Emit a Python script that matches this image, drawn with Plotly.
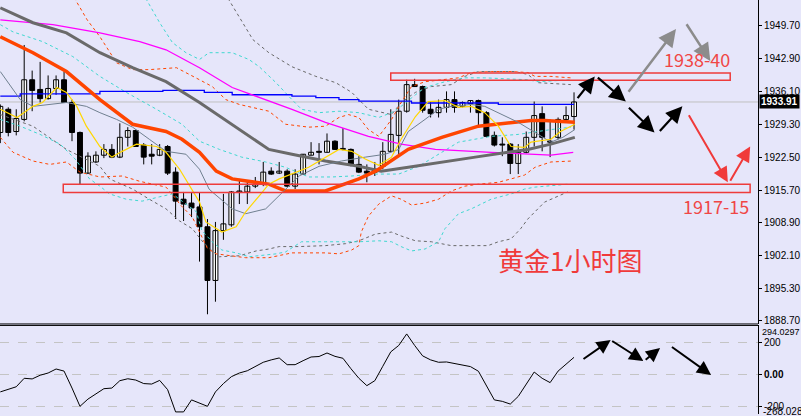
import plotly.graph_objects as go

BG = "#E6E6FA"

# ---------------- candles (1h gold) ----------------
opens = [1927.6,1932.4,1927.8,1930.3,1938.5,1936.5,1934.6,1936.7,1938.5,1933.8,
         1927.6,1919.2,1921.5,1922.9,1924.1,1922.5,1926.6,1928.0,1925.0,1923.1,
         1922.9,1924.7,1919.4,1913.8,1913.0,1912.2,1908.1,1897.0,1907.3,1908.5,
         1915.3,1915.3,1916.5,1917.1,1919.6,1919.2,1919.6,1916.5,1919.0,1922.9,
         1923.7,1923.5,1925.8,1924.1,1924.1,1921.0,1919.6,1920.0,1920.6,1923.7,
         1927.0,1932.0,1937.5,1937.1,1932.4,1931.7,1932.8,1934.4,1933.0,1933.6,
         1934.2,1931.7,1927.0,1925.2,1925.2,1921.2,1923.5,1926.6,1931.5,1925.8,
         1926.6,1930.3,1930.9]
highs = [1933.4,1932.8,1932.4,1945.7,1940.4,1942.2,1939.4,1939.4,1940.2,1934.4,
         1927.8,1923.5,1923.7,1925.2,1925.2,1929.5,1928.7,1928.2,1925.4,1925.2,
         1925.2,1925.0,1920.4,1915.3,1915.3,1915.1,1909.7,1909.1,1914.9,1915.5,
         1918.0,1917.5,1918.4,1921.5,1920.4,1921.5,1920.0,1920.0,1923.1,1925.6,
         1925.4,1927.4,1926.0,1928.5,1924.3,1922.7,1921.0,1921.5,1925.6,1932.4,
         1934.4,1938.5,1938.7,1937.3,1934.0,1934.4,1936.1,1936.1,1934.0,1934.2,
         1934.4,1932.0,1927.8,1926.6,1925.4,1925.2,1927.8,1934.0,1933.0,1930.3,
         1930.7,1933.0,1935.9]
lows = [1925.4,1926.8,1927.0,1929.9,1932.0,1933.8,1934.4,1935.4,1933.8,1925.8,
        1916.9,1919.0,1921.3,1922.3,1922.3,1922.3,1924.7,1924.6,1921.0,1921.0,
        1922.7,1918.8,1909.7,1909.3,1910.1,1900.9,1890.0,1892.6,1905.4,1908.1,
        1912.8,1912.8,1916.1,1916.5,1918.8,1919.0,1916.3,1915.9,1918.8,1922.9,
        1921.0,1923.5,1924.0,1923.9,1920.6,1919.2,1917.3,1918.6,1920.0,1923.5,
        1922.5,1931.7,1937.1,1931.7,1930.7,1930.7,1931.7,1931.7,1932.8,1931.7,
        1928.7,1926.6,1924.7,1922.7,1919.0,1919.0,1923.3,1924.7,1923.7,1922.5,
        1926.2,1929.9,1928.2]
closes = [1933.0,1927.6,1930.5,1938.5,1936.3,1934.6,1936.7,1938.5,1933.8,1927.6,
          1919.2,1922.7,1922.9,1924.1,1922.5,1926.6,1928.0,1924.7,1922.5,1922.7,
          1924.1,1919.2,1913.4,1912.8,1912.0,1908.1,1897.0,1907.3,1908.7,1915.3,
          1915.5,1916.5,1916.9,1919.4,1919.0,1919.6,1916.5,1919.0,1923.1,1923.5,
          1923.5,1925.8,1924.1,1924.3,1921.0,1919.4,1919.2,1919.4,1923.7,1927.2,
          1932.0,1937.5,1937.1,1932.2,1931.5,1932.8,1934.4,1932.8,1933.8,1934.2,
          1931.7,1926.8,1925.0,1925.0,1921.2,1923.5,1926.6,1931.1,1926.6,1925.6,
          1930.3,1931.1,1933.91]
bars = list(range(len(closes)))
last_price = 1933.91

# ---------------- CCI sub window ----------------
cci = [-110,-95,-78,-25,-29,-6,8,33,20,-86,
       -200,-155,-120,-90,-86,-40,-28,-36,-58,-61,
       -38,-96,-235,-235,-160,-178,-200,-110,-58,-15,
       8,22,50,75,90,102,60,60,85,108,
       111,133,112,100,35,-25,-71,-40,50,140,
       180,252,180,115,90,75,77,67,55,48,
       19,-75,-160,-169,-186,-138,-60,14,-25,-52,
       20,65,106]

# ---------------- moving averages / envelopes ----------------
orange_ma_x = [0,4.1,8.3,12.5,16.6,20.8,22.8,25,27.1,29.1,33.7,35.8,40.8,45,47.1,51.2,55.4,57.5,60,66.6,68.3,72.1]
orange_ma_y = [1947.4,1944.1,1940.2,1934.4,1929.3,1927.8,1926.2,1923.5,1919.6,1918.0,1916.9,1915.5,1915.5,1918.0,1919.6,1924.1,1926.6,1927.6,1928.9,1930.1,1930.1,1929.7]

gray_ma_x = [0,4.1,8.3,12.5,16.6,20.8,25,29.1,33.7,36.6,40.8,45,47.8,51.2,55.4,59.6,63.7,66.2,69.1,72.1]
gray_ma_y = [1953.4,1950.3,1948.2,1944.1,1941.0,1938.1,1933.8,1929.3,1924.1,1923.1,1921.7,1920.6,1919.6,1920.4,1921.5,1922.5,1923.5,1924.1,1925.2,1926.6]

magenta_ma_x = [0,6.6,12.5,17.5,20.8,25,29.1,33.3,36.6,40.8,46.2,50.3,54.6,61.6,66.2,69.1,71.9]
magenta_ma_y = [1950.9,1949.9,1948.2,1946.4,1944.7,1941.0,1936.9,1934.4,1932.4,1929.7,1926.8,1925.2,1924.1,1923.5,1923.1,1922.9,1923.5]

blue_ma_x = [0,2.5,12.5,20.4,25.6,29.1,36.6,39.6,42.5,45,51.6,62.5,72]
blue_ma_y = [1935.1,1935.6,1936.1,1936.3,1935.9,1935.4,1935.1,1934.8,1934.4,1934.1,1933.7,1933.4,1933.4]

yellow_ma_x = [0,2.1,4.1,5.3,7.1,8.3,9.6,10.8,12.5,14,15.3,17.1,19.6,20.8,22.5,24,25,25.8,27.8,29.6,30.8,32.5,33.7,35,38.7,42.5,44.1,45.8,47.5,49.1,50.3,52.1,53.7,55.8,57.5,59.1,60.8,62.5,64.1,65.8,66.6,69.1,70.3,72.1]
yellow_ma_y = [1932.4,1930.7,1933.0,1933.8,1936.9,1935.9,1933.0,1928.9,1924.7,1922.5,1923.7,1925.2,1924.7,1923.5,1920.0,1915.9,1913.2,1909.1,1907.0,1908.1,1911.2,1914.5,1916.9,1918.0,1920.4,1924.1,1923.7,1922.1,1920.8,1922.5,1926.2,1930.9,1934.0,1934.2,1932.8,1933.0,1931.7,1928.9,1924.7,1924.5,1925.6,1926.2,1927.8,1929.3]

slate_ma_x = [0,1.2,2.5,4.1,6.2,8.3,10.8,12.5,14.6,16.6,18.7,20.8,23.3,25,26.2,26.6,29.1,30.8,33.3,35.8,37.5,40,42.8,45.8,48.3,50,51.2,53.3,55,56.6,59.1,60.8,62.5,65,67.5,69.1,70.6,72.1]
slate_ma_y = [1940.2,1937.5,1934.4,1933.0,1933.4,1933.8,1933.0,1931.7,1930.3,1928.7,1926.2,1923.7,1923.1,1920.0,1915.9,1915.3,1911.8,1910.8,1911.8,1915.9,1918.6,1920.6,1921.7,1922.5,1923.1,1924.1,1927.8,1930.3,1932.4,1933.0,1933.4,1933.0,1931.7,1929.7,1927.2,1925.6,1926.6,1928.2]

orange_up_x = [0,8.7,10.9,12.5,14.6,16.6,18.7,22.1,25,26.6,28.3,30,33.7,35.8,38.7,40.8,42.5,43.7,45,46.2,47.5,49.1,50.3,51.6,53.3,55.8,57.5,59.1,61.6,64.1,66.2,67.1,69.1,71.6]
orange_up_y = [1968.0,1957.1,1950.9,1947.4,1942.0,1940.6,1940.6,1941.0,1938.5,1937.1,1934.4,1933.4,1932.0,1929.3,1928.7,1928.9,1930.7,1931.3,1930.7,1928.2,1926.8,1930.3,1933.8,1937.1,1938.1,1938.5,1938.9,1940.0,1940.2,1940.2,1940.0,1939.2,1939.2,1938.9]
orange_dn_x = [0,1.6,4.1,6.2,8.3,10,12.5,15.3,17.5,20.8,22.1,22.5,24.1,25.3,26,27.1,29.1,30.8,33.7,35,36.6,40.8,42.5,44.1,45,45.3,46.2,47.5,49.1,50.3,51.6,53.3,55,56.6,58.3,60,62.5,64.1,65.8,67.1,69.1,71.8]
orange_dn_y = [1926.6,1923.5,1921.7,1921.0,1921.5,1919.4,1918.4,1918.6,1917.5,1916.3,1913.8,1912.8,1910.1,1906.0,1903.6,1902.5,1902.1,1901.7,1901.7,1902.1,1902.7,1902.7,1902.5,1903.3,1904.2,1907.0,1910.3,1912.8,1914.5,1913.8,1912.6,1913.0,1913.8,1915.5,1916.5,1916.9,1917.3,1918.0,1918.8,1920.4,1921.5,1921.7]

cyan_up_x = [17.5,18.4,20,21.6,23.3,25,26.2,29.1,31.2,32.5,34.6,36.6,37.8,40,42.5,45,47.5,49.1,50.3,52.1,53.3,55.8,58.3,60.8,63.7,66.2,67.5,71.6]
cyan_up_y = [1957.5,1955.0,1950.3,1946.2,1944.1,1942.7,1944.1,1944.1,1942.7,1941.2,1937.9,1934.4,1932.4,1931.7,1932.0,1931.7,1930.7,1931.7,1933.0,1935.4,1936.9,1938.1,1938.9,1938.9,1938.7,1938.5,1938.1,1938.5]
cyan_mid_x = [0,1.6,5.3,9.1,12.5,15.8,19.6,22.8,25,27.5,30.3,33.3,35.8,38.7,41.6,44.1,47.1,50,52.5,55,57.5,61.6,65,69.1,71.6]
cyan_mid_y = [1949.9,1948.4,1946.4,1943.3,1939.2,1935.9,1932.4,1929.3,1925.8,1924.1,1922.5,1921.5,1920.4,1918.4,1918.4,1918.6,1919.0,1919.0,1920.6,1923.1,1925.6,1926.8,1927.2,1928.2,1928.7]
cyan_dn_x = [0,2.5,5,7.5,9.4,11.2,12.5,13.7,15.8,17.8,20,21.6,23.3,24.6,25.3,26.6,27.8,29.6,31.2,33.7,34.6,35.8,37.8,40.8,45,47.5,49.1,50.3,51.6,53.3,55,55.8,57.5,59.1,61.6,64.1,65.8,67.1,71.2]
cyan_dn_y = [1930.3,1928.9,1927.2,1925.2,1922.1,1918.0,1916.5,1914.9,1913.8,1913.4,1914.3,1914.9,1912.8,1911.2,1907.3,1905.0,1903.3,1902.7,1901.9,1902.3,1902.5,1902.9,1905.0,1905.0,1905.0,1905.2,1905.0,1904.0,1903.1,1903.5,1905.0,1907.7,1910.8,1911.8,1913.8,1914.9,1915.9,1916.3,1916.9]

gray_up_x = [27.5,28.7,31.7,33.7,36.6,39.6,42.1,44.1,46.2,48.3,49.1,50.3,52.1,54.1,56.6,58.3,60,64.6,66.2,67.5,71.6]
gray_up_y = [1957.1,1955.0,1946.8,1944.1,1941.2,1939.2,1937.9,1935.9,1932.4,1931.7,1931.3,1933.8,1935.9,1937.1,1937.5,1939.2,1940.2,1940.2,1939.6,1937.9,1937.5]
gray_dn_x = [0,4.1,8.3,12.5,13.7,16.6,18.7,20.8,22.5,24.1,25.3,26.6,27.5,30,32.1,33.7,35,37.5,40.8,43.3,45,47.1,49.1,50.3,52.1,54.1,56.6,61.2,62.5,64.1,65.3,66.2,68.3,71.2]
gray_dn_y = [1931.3,1928.9,1924.1,1920.6,1918.0,1915.9,1913.8,1911.8,1909.3,1907.7,1905.2,1903.1,1901.9,1902.1,1903.1,1903.5,1904.0,1904.0,1904.2,1904.6,1905.2,1906.6,1907.0,1906.2,1905.2,1905.0,1904.2,1904.2,1905.0,1905.6,1907.7,1909.7,1913.2,1915.3]

# price axis labels
price_ticks = [1949.70,1942.90,1936.10,1929.30,1922.50,1915.70,1908.90,1902.10,1895.30,1888.70]

# zones
zone_top = (49.0, 91.6, 1938.4, 1939.9)
zone_bottom = (7.9, 94.1, 1915.2, 1916.9)

# arrows: (tail_x, tail_y, head_x, head_y)
black_arrows = [(72.3,1934.4,74.6,1939.2),(74.8,1939.2,78.5,1934.0),(78.7,1933.0,82.1,1927.6),(82.6,1927.6,85.6,1933.0)]
gray_arrows = [(78.7,1935.7,84.8,1949.0),(86.0,1950.3,89.1,1942.4)]
red_arrows = [(86.3,1931.5,91.3,1917.3),(91.5,1917.3,94.1,1924.7)]
cci_arrows = [(73.0,89,76.6,214),(76.6,214,80.7,83),(80.8,83,82.8,164),(84.1,177,89.2,-4)]

fig = go.Figure()

# wicks
wx, wy = [], []
for k, h, l in zip(bars, highs, lows):
    wx += [k, k, None]
    wy += [l, h, None]
fig.add_trace(go.Scatter(x=wx, y=wy, mode="lines", line=dict(color="black", width=1),
                         hoverinfo="skip", xaxis="x", yaxis="y"))
base = [min(o, c) for o, c in zip(opens, closes)]
hgt = [max(abs(c - o), 0.2) for o, c in zip(opens, closes)]
cols = ["white" if c >= o else "black" for o, c in zip(opens, closes)]
fig.add_trace(go.Bar(x=bars, y=hgt, base=base, width=0.62,
                     marker=dict(color=cols, line=dict(color="black", width=1)),
                     xaxis="x", yaxis="y"))

def line(x, y, color, width, dash=None, shape="linear"):
    fig.add_trace(go.Scatter(x=x, y=y, mode="lines",
                             line=dict(color=color, width=width, dash=dash, shape=shape),
                             hoverinfo="skip", xaxis="x", yaxis="y"))

DOT = "3px,3px"
line(gray_up_x, gray_up_y, "#696969", 1, DOT)
line(gray_dn_x, gray_dn_y, "#696969", 1, DOT)
line(cyan_up_x, cyan_up_y, "#40D8D0", 1, DOT)
line(cyan_mid_x, cyan_mid_y, "#40D8D0", 1, DOT)
line(cyan_dn_x, cyan_dn_y, "#40D8D0", 1, DOT)
line(orange_up_x, orange_up_y, "#FF4500", 1, DOT)
line(orange_dn_x, orange_dn_y, "#FF4500", 1, DOT)
line(blue_ma_x, blue_ma_y, "#0000FF", 1.3, None, "hv")
line(magenta_ma_x, magenta_ma_y, "#FF00FF", 1.3)
line(gray_ma_x, gray_ma_y, "#6A6A6A", 3)
line(orange_ma_x, orange_ma_y, "#FF4500", 3.5)
line(slate_ma_x, slate_ma_y, "#708090", 1)
line(yellow_ma_x, yellow_ma_y, "#FFD700", 1.2)

# CCI
fig.add_trace(go.Scatter(x=bars, y=cci, mode="lines", line=dict(color="black", width=1),
                         hoverinfo="skip", xaxis="x2", yaxis="y2"))

XR = [-0.0375, 95.0875]
fig.update_layout(
    width=801, height=416, margin=dict(l=0, r=40, t=0, b=0),
    paper_bgcolor=BG, plot_bgcolor=BG, showlegend=False, barmode="overlay",
    xaxis=dict(domain=[0, 1], range=XR, visible=False, anchor="y"),
    yaxis=dict(domain=[0.2175, 1], range=[1888.0, 1955.0], side="right", anchor="x",
               tickvals=price_ticks, tickformat=".2f", ticks="outside", ticklen=3,
               tickcolor="black", showline=True, linecolor="black", linewidth=1,
               showgrid=False, zeroline=False,
               tickfont=dict(family="Liberation Sans", size=10, color="black")),
    xaxis2=dict(domain=[0, 1], range=XR, visible=False, anchor="y2"),
    yaxis2=dict(domain=[0, 0.2139], range=[-248, 305], side="right", anchor="x2",
                tickvals=[200, 0, -200], ticktext=["200", "<b>0.00</b>", "-200"],
                ticks="outside", ticklen=3, tickcolor="black",
                showline=True, linecolor="black", linewidth=1,
                showgrid=True, gridcolor="#C4C4C4", griddash="dash", gridwidth=1,
                zeroline=False,
                tickfont=dict(family="Liberation Sans", size=10, color="black")),
)

RED = "#EE3B3B"
shapes = [
    dict(type="line", xref="paper", yref="y", x0=0, x1=1, y0=last_price, y1=last_price,
         line=dict(color="#C0C0C0", width=1), layer="below"),
    dict(type="rect", xref="x", yref="y", x0=zone_top[0], x1=zone_top[1], y0=zone_top[2], y1=zone_top[3],
         line=dict(color=RED, width=1.5)),
    dict(type="rect", xref="x", yref="y", x0=zone_bottom[0], x1=zone_bottom[1], y0=zone_bottom[2], y1=zone_bottom[3],
         line=dict(color=RED, width=1.5)),
    dict(type="line", xref="paper", yref="paper", x0=0, x1=1, y0=0.2175, y1=0.2175,
         line=dict(color="black", width=1)),
    dict(type="line", xref="paper", yref="paper", x0=0, x1=1, y0=0.2139, y1=0.2139,
         line=dict(color="black", width=1)),
]
fig.update_layout(shapes=shapes)

ann = []
def arrow(t, color, width, xr="x", yr="y", size=1.3):
    ann.append(dict(x=t[2], y=t[3], ax=t[0], ay=t[1], xref=xr, yref=yr, axref=xr, ayref=yr,
                    text="", showarrow=True, arrowhead=2, arrowsize=size, arrowwidth=width,
                    arrowcolor=color, standoff=0, startstandoff=0))
for a in black_arrows:
    arrow(a, "black", 2.2, size=1.5)
for a in gray_arrows:
    arrow(a, "#8C8C8C", 2.5, size=1.4)
for a in red_arrows:
    arrow(a, "#F03A3A", 2, size=1.5)
for a in cci_arrows:
    arrow(a, "black", 2, "x2", "y2", 1.4)

ann += [
    dict(x=87.46, y=1942.9, xref="x", yref="y", text="1938-40", showarrow=False,
         font=dict(family="Noto Sans CJK SC", size=18, color="#F04646")),
    dict(x=89.84, y=1912.4, xref="x", yref="y", text="1917-15", showarrow=False,
         font=dict(family="Noto Sans CJK SC", size=18, color="#F04646")),
    dict(x=71.46, y=1901.3, xref="x", yref="y", text="黄金1小时图", showarrow=False,
         font=dict(family="Noto Sans CJK SC", size=26, color="#F03A3A")),
    dict(x=1, y=last_price, xref="paper", yref="y", text="<b>1933.91</b>", showarrow=False,
         xanchor="left", xshift=1, bgcolor="black", borderpad=1,
         font=dict(family="Liberation Sans", size=10, color="white")),
    dict(x=1, y=267, xref="paper", yref="y2", text="294.0297", showarrow=False,
         xanchor="left", yanchor="middle", xshift=3, borderpad=0,
         font=dict(family="Liberation Sans", size=9, color="black")),
    dict(x=1, y=-232, xref="paper", yref="y2", text="-268.028", showarrow=False,
         xanchor="left", xshift=3, font=dict(family="Liberation Sans", size=10, color="black")),
]
fig.update_layout(annotations=ann)

fig.write_html("out.html")
